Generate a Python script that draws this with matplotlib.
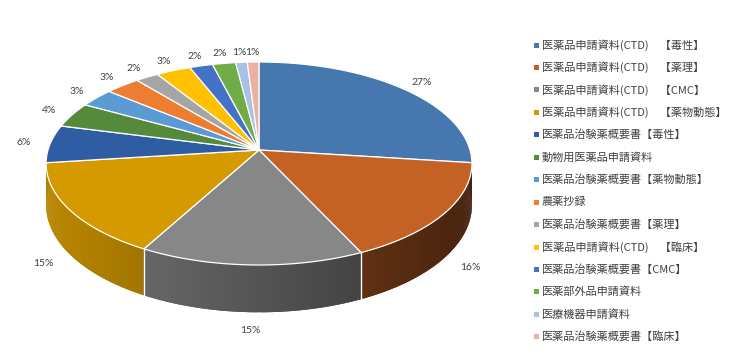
import numpy as np
import matplotlib
matplotlib.use("Agg")
import matplotlib.pyplot as plt
from matplotlib.patches import Polygon, Rectangle
from matplotlib.collections import PolyCollection

# categories (legend order, clockwise from 12 o'clock)
categories = [
    "医薬品申請資料(CTD)　【毒性】",
    "医薬品申請資料(CTD)　【薬理】",
    "医薬品申請資料(CTD)　【CMC】",
    "医薬品申請資料(CTD)　【薬物動態】",
    "医薬品治験薬概要書【毒性】",
    "動物用医薬品申請資料",
    "医薬品治験薬概要書【薬物動態】",
    "農薬抄録",
    "医薬品治験薬概要書【薬理】",
    "医薬品申請資料(CTD)　【臨床】",
    "医薬品治験薬概要書【CMC】",
    "医薬部外品申請資料",
    "医療機器申請資料",
    "医薬品治験薬概要書【臨床】",
]
shares = [27, 16, 15, 15, 6, 4, 3, 3, 2, 3, 2, 2, 1, 1]
colors = ["#4677AE", "#C46226", "#878787", "#D49A00", "#2F5DA3", "#548A3A",
          "#5B9BD5", "#ED7D31", "#A5A5A5", "#FFC000", "#4472C4", "#70AD47",
          "#A8C2E6", "#EFB0A2"]

# geometry of the tilted pie (pixel space)
CX, CY = 259, 150        # apex of the wedges
A, B, K = 211, 99.7, 0.133
DEPTH = 41

def project(t, r=1.0, drop=0.0):
    u = r * np.sin(t)
    v = r * np.cos(t)
    d = 1 + K * v
    return CX + A * u / d, CY - B * v / d + drop / d

def shade(hex_col, x):
    # light comes from the left: side wall darkens to the right
    f = np.clip(0.88 - 0.00122 * (x - 46), 0.3, 1.0)
    rgb = np.array(matplotlib.colors.to_rgb(hex_col))
    return tuple(rgb * f)

fig = plt.figure(figsize=(7.37, 3.62), dpi=100)
ax = fig.add_axes([0, 0, 1, 1])
ax.set_xlim(0, 737)
ax.set_ylim(362, 0)
ax.axis("off")

frac = np.array(shares, dtype=float) / sum(shares)
bounds = np.concatenate([[0], np.cumsum(frac)]) * 2 * np.pi

# side wall, drawn far to near as thin overlapping strips
ts = np.linspace(np.pi / 2 - 0.02, 3 * np.pi / 2 + 0.02, 500)
step = ts[1] - ts[0]
strips, scols, depths = [], [], []
for t0, t1 in zip(ts[:-1], ts[1:]):
    tm = 0.5 * (t0 + t1)
    idx = np.searchsorted(bounds, tm) - 1
    ta, tb = t0 - 0.6 * step, t1 + 0.6 * step
    x0, y0 = project(ta)
    x1, y1 = project(tb)
    x0b, y0b = project(ta, drop=DEPTH)
    x1b, y1b = project(tb, drop=DEPTH)
    strips.append([(x0, y0), (x1, y1), (x1b, y1b), (x0b, y0b)])
    scols.append(shade(colors[idx], 0.5 * (x0 + x1)))
    depths.append(np.cos(tm))
order = np.argsort(depths)[::-1]
pc = PolyCollection([strips[i] for i in order], facecolors=[scols[i] for i in order],
                    edgecolors="none", linewidths=0)
ax.add_collection(pc)

for tb in bounds[1:-1]:
    if np.cos(tb) < -K:
        xa, ya = project(tb)
        xb, yb = project(tb, drop=DEPTH)
        ax.plot([xa, xb], [ya, yb], color="white", lw=1.0)

# top face
for i, col in enumerate(colors):
    tt = np.linspace(bounds[i], bounds[i + 1], 80)
    xs, ys = project(tt)
    pts = [(CX, CY)] + list(zip(xs, ys))
    ax.add_patch(Polygon(pts, closed=True, facecolor=col, edgecolor="white", lw=0.9))

# percentage labels
for i, s in enumerate(shares):
    tm = 0.5 * (bounds[i] + bounds[i + 1])
    off = DEPTH * np.clip(-np.cos(tm) * 4, 0, 1)
    lx, ly = project(tm, r=1.13, drop=off)
    ax.text(lx, ly, f"{round(frac[i] * 100)}%", ha="center", va="center",
            fontsize=7.5, color="#404040", family="Lato")

# legend
for i, (lab, col) in enumerate(zip(categories, colors)):
    y = 45 + i * 22.45
    ax.add_patch(Rectangle((534, y - 2.5), 5, 5, facecolor=col, edgecolor="none"))
    ax.text(542, y, lab, ha="left", va="center", fontsize=8, color="#404040",
            family=["Noto Sans CJK JP", "DejaVu Sans"])

fig.savefig("out.png", dpi=100)
